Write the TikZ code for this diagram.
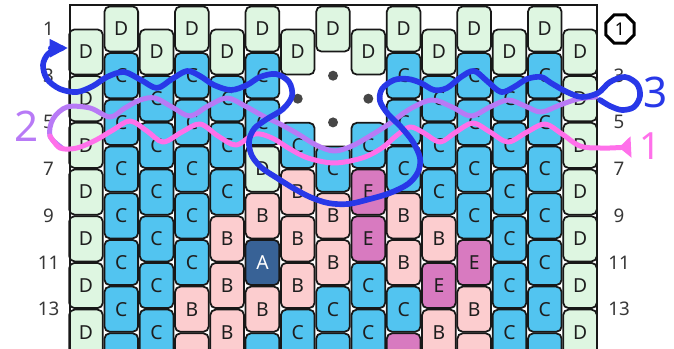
\documentclass[tikz,border=0pt]{standalone}
\usepackage{fontspec}
\setmainfont{Noto Sans}
\usetikzlibrary{arrows.meta,shapes.geometric}

\definecolor{colD}{RGB}{222,246,225}
\definecolor{colC}{RGB}{82,196,240}
\definecolor{colB}{RGB}{252,205,207}
\definecolor{colA}{RGB}{56,98,150}
\definecolor{colE}{RGB}{216,122,192}
\definecolor{beadline}{RGB}{24,24,24}
\definecolor{beadtext}{RGB}{30,30,30}
\definecolor{rowgray}{RGB}{55,55,55}
\definecolor{dotgray}{RGB}{70,70,70}
\definecolor{threadBlue}{RGB}{40,56,232}
\definecolor{threadPurple}{RGB}{184,122,246}
\definecolor{threadPink}{RGB}{255,112,234}

\begin{document}
\begin{tikzpicture}
[x=0.03cm, y=-0.03cm,
  bead/.style={draw=beadline, line width=1.5pt, rounded corners=0.16cm,
    minimum width=1.01cm, minimum height=1.355cm, inner sep=0pt,
    text=beadtext, font=\fontsize{16.5}{16.5}\selectfont\bfseries},
  beadD/.style={bead, fill=colD},
  beadC/.style={bead, fill=colC},
  beadB/.style={bead, fill=colB},
  beadA/.style={bead, fill=colA, text=white},
  beadE/.style={bead, fill=colE},
  rowLabel/.style={text=rowgray, font=\fontsize{16}{16}\selectfont},
  thread/.style={line width=0.15cm, line cap=round, line join=round},
  handLabel/.style={font=\fontsize{36}{36}\selectfont}]
\useasboundingbox (0,0) rectangle (674,349);
\clip (0,0) rectangle (674,349);
%% beads, one column at a time (N = left out, shown by a dot)
\foreach \col/\beads in {
  1/{D,D,D,D,D,D,D}, 2/{D,C,C,C,C,C,C,C}, 3/{D,C,C,C,C,C,C},
  4/{D,C,C,C,C,C,B,B}, 5/{D,C,C,C,B,B,B}, 6/{D,C,C,D,B,A,B,C},
  7/{D,N,C,B,B,B,C}, 8/{D,N,N,C,B,B,C,C}, 9/{D,N,C,E,E,C,C},
  10/{D,C,C,C,B,B,C,E}, 11/{D,C,C,C,B,E,B}, 12/{D,C,C,C,C,E,B,B},
  13/{D,C,C,C,C,C,C}, 14/{D,C,C,C,C,C,C,C}, 15/{D,D,D,D,D,D,D}}
{
  \pgfmathsetmacro{\bx}{86+35.29*(\col-1)}
  \pgfmathsetmacro{\by}{isodd(\col) ? 52 : 29}
  \foreach \kind [count=\k from 0] in \beads {
    \pgfmathsetmacro{\bby}{\by+46.7*\k}
    \if\kind N
      \fill[dotgray] (\bx,\bby) circle (0.15cm);
    \else
      %% the last row is cut by the page edge: no letter there
      \pgfmathparse{\bby>345 ? 1 : 0}
      \ifnum\pgfmathresult=1
        \node[bead\kind] (b\col-\k) at (\bx,\bby) {};
      \else
        \node[bead\kind] (b\col-\k) at (\bx,\bby) {\kind};
      \fi
    \fi
  }
}
%% frame
\draw[beadline, line width=1.2pt] (70,360) -- (70,5) -- (597,5) -- (597,360);
%% row numbers
\foreach \r [count=\i from 0] in {1,3,5,7,9,11,13}
  \node[rowLabel] (left\r) at (48.5,{29+46.7*\i}) {\r};
\foreach \r [count=\i from 1] in {3,5,7,9,11,13}
  \node[rowLabel] (right\r) at (619,{29+46.7*\i}) {\r};
\node[draw=black, line width=2.6pt, regular polygon, regular polygon sides=8,
  minimum size=0.92cm, inner sep=0pt, font=\fontsize{15}{15}\selectfont] (right1) at (620,29) {1};
%% thread 2
\draw[thread, threadPurple] plot[smooth, tension=0.55] coordinates {
  (62,148) (50,136) (53,119) (67,107) (90,108) (110,117) (125,108) (140,100)
  (155,98) (172,107) (190,116) (208,106) (227,98) (245,106) (263,116) (280,124)
  (298,134) (316,145) (334,151) (352,146) (370,136) (389,124) (410,109) (432,100)
  (452,107) (471,116) (490,107) (508,100) (525,106) (541,112) (560,105) (578,99) (596,97)};
%% thread 1
\draw[thread, threadPink, {Triangle[reversed, length=0.36cm, width=0.62cm]}-]
  plot[smooth, tension=0.55] coordinates {
  (631,147) (600,148) (580,146) (562,134) (545,124) (527,132) (508,142) (490,132)
  (473,123) (456,132) (440,142) (424,133) (410,127) (396,136) (382,148) (362,158)
  (334,163) (308,158) (290,149) (272,138) (255,134) (236,145) (218,136) (200,124)
  (182,132) (163,142) (147,131) (130,121) (113,130) (96,140) (77,148) (60,148) (50,136)};
%% thread 3
\draw[thread, threadBlue, line width=0.17cm, -{Triangle[length=0.55cm, width=0.52cm]}]
  plot[smooth, tension=0.55] coordinates {
  (600,100) (610,106) (622,110) (634,107) (640,96) (637,84) (625,77) (610,82)
  (598,93) (582,97) (567,92) (551,83) (541,77) (527,79) (514,87) (501,92)
  (487,81) (474,71) (461,77) (447,88) (434,90) (421,83) (408,79) (394,80)
  (382,89) (380,101) (388,114) (401,127) (413,142) (420,158) (418,172) (408,184)
  (390,193) (370,199) (348,204) (328,203) (310,197) (293,188) (277,178) (262,168)
  (252,156) (249,142) (254,129) (267,119) (283,109) (292,96) (289,82) (276,74)
  (260,77) (247,85) (231,90) (214,85) (200,76) (187,71) (172,79) (157,88)
  (141,80) (124,72) (107,77) (93,86) (77,92) (60,89) (47,79) (43,65) (48,54) (58,49) (68,48)};
%% thread numbers
\node[handLabel, text=threadPurple] (two) at (27,126) {2};
\node[handLabel, text=threadBlue] (three) at (656,92) {3};
\node[handLabel, text=threadPink, font=\fontsize{32}{32}\selectfont] (one) at (650,146) {1};
\end{tikzpicture}
\end{document}
